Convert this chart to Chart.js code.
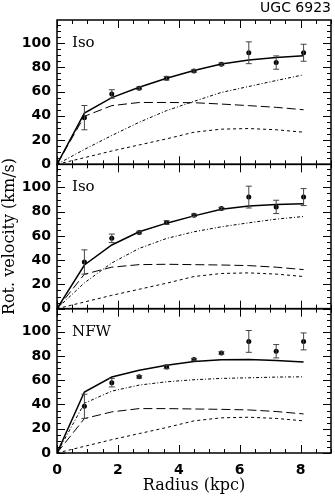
<!DOCTYPE html>
<html>
<head>
<meta charset="utf-8">
<script src="https://cdn.jsdelivr.net/npm/chart.js@4.4.0/dist/chart.umd.min.js"></script>
<style>
  html, body { margin: 0; padding: 0; background: #fff; }
</style>
</head>
<body>
<canvas id="rotCurve" width="335" height="498"></canvas>
<script>
// observed rotation curve
const radius = [0.9, 1.8, 2.7, 3.6, 4.5, 5.4, 6.3, 7.2, 8.1];
const vObs = [38.5, 58, 62.8, 71, 77, 82.5, 92, 83.9, 92];
const vErr = [10, 3.5, 1, 1.5, 1, 1, 9, 5.5, 7];

// model curves (sampled at r = 0 plus the data radii)
const modelRadius = [0, 0.9, 1.8, 2.7, 3.6, 4.5, 5.4, 6.3, 7.2, 8.1];
const gas = [0, 5.5, 11, 16, 21, 26.5, 29, 29.5, 28.5, 26.5];

const isoATotal = [0, 42.3, 55, 63.5, 71, 77.3, 82.8, 86, 88, 89.6];
const isoADisk = [0, 39.6, 48.4, 51, 51, 50.8, 49.7, 48.4, 47, 45];
const isoAHalo = [0, 12.3, 23.8, 34.7, 44.3, 51.9, 59.3, 64.2, 69.1, 73.8];

const isoBTotal = [0, 36, 52.5, 63.4, 70.5, 76.5, 82, 84.7, 85.8, 86.6];
const isoBDisk = [0, 28.4, 34.2, 36.3, 36.6, 36.3, 36, 35.5, 34.2, 32.2];
const isoBHalo = [0, 21.3, 37.7, 49.7, 57.9, 63.4, 67.5, 70.8, 73.8, 76];

const nfwTotal = [0, 50.3, 62.6, 68.3, 72.4, 75.4, 76.8, 77, 76.2, 75];
const nfwDisk = [0, 28.4, 33.9, 36.6, 36.6, 36.3, 36, 35.5, 34.2, 32.2];
const nfwHalo = [0, 41, 51, 56, 58.7, 60.4, 61.5, 62, 62.6, 62.8];

const panelLabels = ['Iso', 'Iso', 'NFW'];
const xTicks = [0, 2, 4, 6, 8];
const yTicks = [0, 20, 40, 60, 80, 100];

const panelIds = ['yTop', 'yMid', 'yBot'];

function pts(xs, ys) {
    return xs.map((x, i) => ({ x: x, y: ys[i] }));
}

function modelSets(axis, total, disk, halo) {
    const base = { yAxisID: axis, xAxisID: 'x', pointRadius: 0, borderColor: '#000', fill: false, tension: 0 };
    return [
        Object.assign({}, base, { data: pts(modelRadius, total), borderWidth: 1.5 }),
        Object.assign({}, base, { data: pts(modelRadius, disk), borderWidth: 1, borderDash: [9, 4] }),
        Object.assign({}, base, { data: pts(modelRadius, halo), borderWidth: 1, borderDash: [3, 2, 1, 2] }),
        Object.assign({}, base, { data: pts(modelRadius, gas), borderWidth: 1, borderDash: [3, 3] }),
        Object.assign({}, base, {
            data: pts(radius, vObs), showLine: false, pointRadius: 2.5,
            pointBackgroundColor: '#000', pointBorderWidth: 0
        })
    ];
}

const datasets = [].concat(
    modelSets('yTop', isoATotal, isoADisk, isoAHalo),
    modelSets('yMid', isoBTotal, isoBDisk, isoBHalo),
    modelSets('yBot', nfwTotal, nfwDisk, nfwHalo)
);

const tickFont = { family: 'DejaVu Sans', size: 14, weight: 'bold' };
const titleFont = { family: 'DejaVu Serif', size: 16 };

function yScale(withTitle) {
    return {
        type: 'linear',
        position: 'left',
        stack: 'panels',
        stackWeight: 1,
        min: 0,
        max: 119,
        afterBuildTicks: s => { s.ticks = yTicks.map(v => ({ value: v })); },
        afterFit: s => { s.width = 57; },
        grid: { display: false, drawTicks: false },
        border: { display: false },
        ticks: {
            color: '#000',
            padding: 6,
            autoSkip: false,
            font: tickFont
        },
        title: {
            display: withTitle,
            text: 'Rot. velocity (km/s)',
            color: '#000',
            padding: { top: 0, bottom: 2 },
            font: titleFont
        }
    };
}

// frame, inward ticks, error bars and labels
const framePlugin = {
    id: 'frame',
    afterDatasetsDraw(chart) {
        const ctx = chart.ctx;
        const xs = chart.scales.x;
        const area = chart.chartArea;
        ctx.save();

        // error bars
        ctx.lineWidth = 1;
        ctx.strokeStyle = '#444';
        panelIds.forEach(id => {
            const ys = chart.scales[id];
            radius.forEach((r, i) => {
                const px = xs.getPixelForValue(r);
                const lo = ys.getPixelForValue(vObs[i] - vErr[i]);
                const hi = ys.getPixelForValue(vObs[i] + vErr[i]);
                ctx.beginPath();
                ctx.moveTo(px, lo); ctx.lineTo(px, hi);
                ctx.moveTo(px - 3, lo); ctx.lineTo(px + 3, lo);
                ctx.moveTo(px - 3, hi); ctx.lineTo(px + 3, hi);
                ctx.stroke();
            });
        });

        ctx.strokeStyle = '#000';
        panelIds.forEach((id, k) => {
            const ys = chart.scales[id];
            const top = ys.top, bot = ys.bottom;

            // y ticks, left and right
            ctx.lineWidth = 1;
            ctx.beginPath();
            for (let v = 0; v <= 119; v += 5) {
                const py = Math.round(ys.getPixelForValue(v)) + 0.5;
                const len = v % 20 === 0 ? 8 : 4;
                ctx.moveTo(area.left, py); ctx.lineTo(area.left + len, py);
                ctx.moveTo(area.right, py); ctx.lineTo(area.right - len, py);
            }
            // x ticks, bottom and top of each panel
            for (let v = 0; v <= 9; v += 0.5) {
                const px = Math.round(xs.getPixelForValue(v)) + 0.5;
                const len = v % 2 === 0 ? 8 : 4;
                ctx.moveTo(px, bot); ctx.lineTo(px, bot - len);
                ctx.moveTo(px, top); ctx.lineTo(px, top + len);
            }
            ctx.stroke();

            // frame
            ctx.lineWidth = 1.5;
            ctx.strokeRect(area.left, top, area.right - area.left, bot - top);

            // panel label
            ctx.fillStyle = '#000';
            ctx.font = '15px "DejaVu Serif"';
            ctx.textAlign = 'left';
            ctx.textBaseline = 'middle';
            ctx.fillText(panelLabels[k], area.left + 15, ys.getPixelForValue(100));
        });

        // galaxy name
        ctx.font = '14px "DejaVu Sans"';
        ctx.textAlign = 'right';
        ctx.textBaseline = 'middle';
        ctx.fillText('UGC 6923', area.right, 8);
        ctx.restore();
    }
};

new Chart(document.getElementById('rotCurve').getContext('2d'), {
    type: 'line',
    data: { datasets: datasets },
    options: {
        responsive: false,
        animation: false,
        layout: { padding: { top: 20, right: 2, left: 0, bottom: 0 } },
        scales: {
            x: {
                type: 'linear',
                position: 'bottom',
                min: 0,
                max: 9,
                afterBuildTicks: s => { s.ticks = xTicks.map(v => ({ value: v })); },
                afterFit: s => { s.height = 45; },
                grid: { display: false, drawTicks: false },
                border: { display: false },
                ticks: {
                    color: '#000',
                    padding: 9,
                    maxRotation: 0,
                    autoSkip: false,
                    font: tickFont
                },
                title: {
                    display: true,
                    text: 'Radius (kpc)',
                    color: '#000',
                    padding: { top: 2, bottom: 3 },
                    font: titleFont
                }
            },
            yBot: yScale(false),
            yMid: yScale(true),
            yTop: yScale(false)
        },
        plugins: {
            legend: { display: false },
            tooltip: { enabled: false },
            title: { display: false }
        }
    },
    plugins: [framePlugin]
});
</script>
</body>
</html>
